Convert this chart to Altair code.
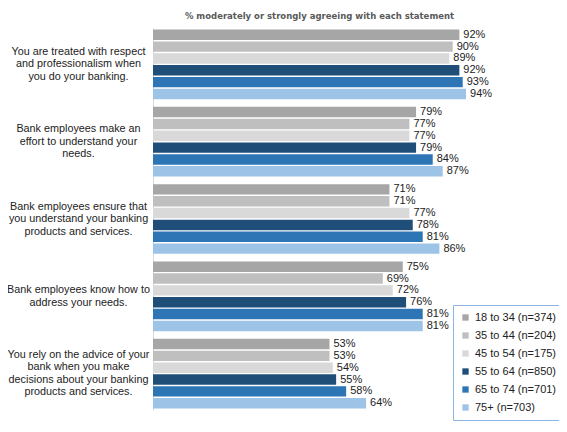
import altair as alt
import pandas as pd

statements = [
    "You are treated with respect|and professionalism when|you do your banking.",
    "Bank employees make an|effort to understand your|needs.",
    "Bank employees ensure that|you understand your banking|products and services.",
    "Bank employees know how to|address your needs.",
    "You rely on the advice of your|bank when you make|decisions about your banking|products and services.",
]
age_groups = [
    "18 to 34 (n=374)",
    "35 to 44 (n=204)",
    "45 to 54 (n=175)",
    "55 to 64 (n=850)",
    "65 to 74 (n=701)",
    "75+ (n=703)",
]
colors = ["#a6a6a6", "#bfbfbf", "#d9d9d9", "#1f4e79", "#2e75b6", "#9dc3e6"]

pct_18_34 = [92, 79, 71, 75, 53]
pct_35_44 = [90, 77, 71, 69, 53]
pct_45_54 = [89, 77, 77, 72, 54]
pct_55_64 = [92, 79, 78, 76, 55]
pct_65_74 = [93, 84, 81, 81, 58]
pct_75_up = [94, 87, 86, 81, 64]

series = [pct_18_34, pct_35_44, pct_45_54, pct_55_64, pct_65_74, pct_75_up]
rows = []
for group, values in zip(age_groups, series):
    for stmt, v in zip(statements, values):
        rows.append({"statement": stmt, "age": group, "pct": v})
df = pd.DataFrame(rows)

FONT = "Liberation Sans"
TEXT_COLOR = "#222222"
LINE_H = 12.5

# shift multi-line labels up so each block is centred on its group
label_shift = {
    "condition": [
        {"test": "indexof(datum.label, 'address') >= 0", "value": -LINE_H / 2},
        {"test": "indexof(datum.label, 'rely') >= 0", "value": -LINE_H * 1.5},
    ],
    "value": -LINE_H,
}

y_enc = alt.Y(
    "statement:N",
    sort=statements,
    title=None,
    scale=alt.Scale(paddingInner=0.1, paddingOuter=0.02),
    axis=alt.Axis(
        labelExpr="split(datum.label, '|')",
        labelAlign="center",
        labelPadding=75,
        labelOffset=label_shift,
        labelFont=FONT,
        labelFontSize=10.8,
        labelLineHeight=LINE_H,
        labelColor=TEXT_COLOR,
        labelLimit=300,
        ticks=False,
        domainColor="#d9d9d9",
        grid=False,
    ),
)
yoff = alt.YOffset("age:N", sort=age_groups, scale=alt.Scale(paddingInner=0.12))
x_enc = alt.X("pct:Q", scale=alt.Scale(domain=[0, 100]), axis=None)

bars = alt.Chart(df).mark_bar().encode(
    y=y_enc,
    yOffset=yoff,
    x=x_enc,
    color=alt.Color(
        "age:N",
        sort=age_groups,
        scale=alt.Scale(domain=age_groups, range=colors),
        legend=alt.Legend(
            title=None,
            orient="none",
            legendX=300,
            legendY=277,
            symbolType="square",
            symbolSize=40,
            symbolStrokeWidth=0,
            labelFont=FONT,
            labelFontSize=11,
            labelColor=TEXT_COLOR,
            labelOffset=4,
            rowPadding=6,
            padding=7,
            strokeColor="#8eb4e3",
            labelLimit=200,
        ),
    ),
)

labels = (
    alt.Chart(df)
    .transform_calculate(lbl="datum.pct + '%'")
    .mark_text(align="left", baseline="middle", dx=4, font=FONT, fontSize=11, color=TEXT_COLOR)
    .encode(
        y=alt.Y("statement:N", sort=statements),
        yOffset=yoff,
        x=x_enc,
        text="lbl:N",
    )
)

chart = (
    alt.layer(bars, labels)
    .properties(
        width=333,
        height=382,
        autosize=alt.AutoSizeParams(type="none"),
        padding={"left": 145, "top": 20, "right": 73, "bottom": 14},
        title=alt.TitleParams(
            "% moderately or strongly agreeing with each statement",
            font="DejaVu Sans",
            fontSize=8.5,
            fontWeight="bold",
            color="#595959",
            anchor="middle",
            offset=8,
        ),
    )
    .configure_view(stroke=None)
)

chart.save("out.html", embed_options={"renderer": "svg", "actions": False})
